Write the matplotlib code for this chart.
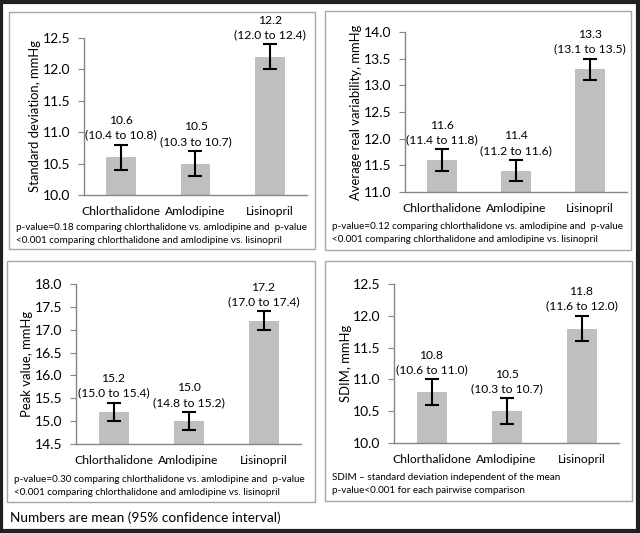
import matplotlib
matplotlib.use("Agg")
import matplotlib.pyplot as plt
from matplotlib.patches import Rectangle

plt.rcParams['font.family'] = ['Lato', 'DejaVu Sans']

categories = ["Chlorthalidone", "Amlodipine", "Lisinopril"]

sd_mean = [10.6, 10.5, 12.2]
sd_lo = [10.4, 10.3, 12.0]
sd_hi = [10.8, 10.7, 12.4]

arv_mean = [11.6, 11.4, 13.3]
arv_lo = [11.4, 11.2, 13.1]
arv_hi = [11.8, 11.6, 13.5]

peak_mean = [15.2, 15.0, 17.2]
peak_lo = [15.0, 14.8, 17.0]
peak_hi = [15.4, 15.2, 17.4]

sdim_mean = [10.8, 10.5, 11.8]
sdim_lo = [10.6, 10.3, 11.6]
sdim_hi = [11.0, 10.7, 12.0]

W, H = 640, 533
fig = plt.figure(figsize=(W / 100, H / 100), dpi=100)

def fx(px):
    return px / W

def fy(py):
    return 1 - py / H

# outer border
fig.patches.append(Rectangle((0.002, 0.003), 0.995, 0.994, transform=fig.transFigure,
                             fill=False, edgecolor='#202020', linewidth=3))

def panel_box(x0, y0, x1, y1):
    fig.patches.append(Rectangle((fx(x0), fy(y1)), fx(x1) - fx(x0), fy(y0) - fy(y1),
                                 transform=fig.transFigure, fill=False,
                                 edgecolor='#a6a6a6', linewidth=1.0))

def panel(ax_px, box_px, means, lo, hi, ylim, ystep, ylabel, label_right_px,
          caption, cap_y):
    x0, y0, x1, y1 = ax_px
    panel_box(*box_px)
    ax = fig.add_axes([fx(x0), fy(y1), fx(x1) - fx(x0), fy(y0) - fy(y1)])
    xs = list(range(len(categories)))
    yerr = [[m - l for m, l in zip(means, lo)], [h - m for m, h in zip(means, hi)]]
    ax.bar(xs, means, width=0.4, color='#bfbfbf', bottom=0)
    ax.errorbar(xs, means, yerr=yerr, fmt='none', ecolor='black', elinewidth=1.5,
                capsize=5, capthick=1.5)
    ax.set_xlim(-0.5, 2.5)
    ax.set_ylim(*ylim)
    n = int(round((ylim[1] - ylim[0]) / ystep))
    ticks = [ylim[0] + i * ystep for i in range(n + 1)]
    ax.set_yticks(ticks)
    ax.set_yticklabels([f"{t:.1f}" for t in ticks], fontsize=10)
    ax.set_xticks(xs)
    ax.set_xticklabels(categories, fontsize=8.7)
    ax.tick_params(axis='x', length=0, pad=8)
    ax.tick_params(axis='y', length=4, color='#868686', direction='out', pad=6)
    for s in ['top', 'right']:
        ax.spines[s].set_visible(False)
    for s in ['left', 'bottom']:
        ax.spines[s].set_color('#868686')
        ax.spines[s].set_linewidth(1.0)
    ax.set_ylabel(ylabel, fontsize=9.4)
    ax.yaxis.set_label_coords((label_right_px - x0) / (x1 - x0), 0.5)
    for x, m, l, h in zip(xs, means, lo, hi):
        ax.annotate(f"{m:.1f}\n({l:.1f} to {h:.1f})", xy=(x, h), xytext=(0, 3),
                    textcoords='offset points', ha='center', va='bottom',
                    fontsize=8.7, linespacing=1.4, annotation_clip=False)
    fig.text(fx(box_px[0] + 7), fy(cap_y), caption, fontsize=7.1, va='top', ha='left',
             linespacing=1.6)
    return ax

panel((84, 38, 307, 195), (9, 12, 315, 249), sd_mean, sd_lo, sd_hi, (10.0, 12.5), 0.5,
      "Standard deviation, mmHg", 41,
      "p-value=0.18 comparing chlorthalidone vs. amlodipine and  p-value\n<0.001 comparing chlorthalidone and amlodipine vs. lisinopril",
      223)
panel((405, 32, 627, 192), (325, 11, 631, 250), arv_mean, arv_lo, arv_hi, (11.0, 14.0), 0.5,
      "Average real variability, mmHg", 362,
      "p-value=0.12 comparing chlorthalidone vs. amlodipine and  p-value\n<0.001 comparing chlorthalidone and amlodipine vs. lisinopril",
      222)
panel((76, 284, 301, 444), (7, 261, 315, 502), peak_mean, peak_lo, peak_hi, (14.5, 18.0), 0.5,
      "Peak value, mmHg", 33,
      "p-value=0.30 comparing chlorthalidone vs. amlodipine and  p-value\n<0.001 comparing chlorthalidone and amlodipine vs. lisinopril",
      475)
panel((394, 284, 619, 443), (325, 261, 632, 501), sdim_mean, sdim_lo, sdim_hi, (10.0, 12.5), 0.5,
      "SDIM, mmHg", 352,
      "SDIM \u2013 standard deviation independent of the mean\np-value<0.001 for each pairwise comparison",
      473)

fig.text(fx(10), fy(518), "Numbers are mean (95% confidence interval)", fontsize=9.8,
         va='center', ha='left')

fig.savefig("out.png", dpi=100)
